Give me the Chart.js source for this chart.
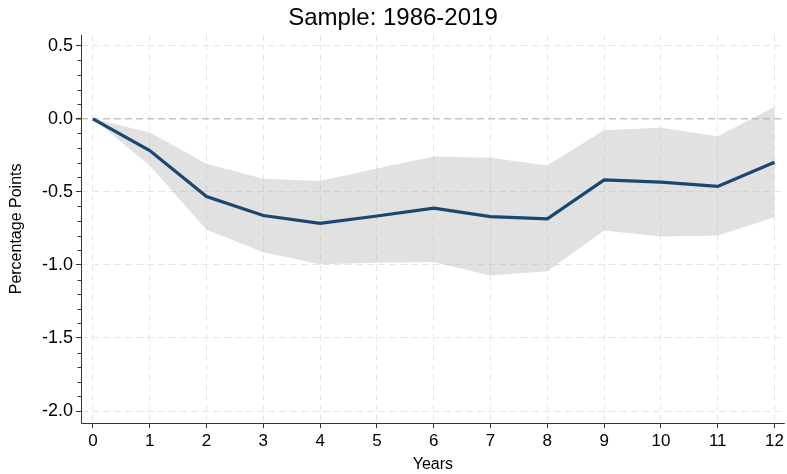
<!DOCTYPE html>
<html>
<head>
<meta charset="utf-8">
<script src="https://cdn.jsdelivr.net/npm/chart.js@4.4.1/dist/chart.umd.min.js"></script>
<style>
  html, body { margin: 0; padding: 0; background: #ffffff; }
  #wrap { width: 787px; height: 474px; position: relative; }
</style>
</head>
<body>
<div id="wrap"><canvas id="c" width="787" height="474"></canvas></div>
<script>
// ---- Data ----
const years = [0, 1, 2, 3, 4, 5, 6, 7, 8, 9, 10, 11, 12];
const estimate = [0, -0.217, -0.532, -0.662, -0.715, -0.665, -0.612, -0.669, -0.685, -0.418, -0.434, -0.463, -0.297];
const upperBand = [0, -0.094, -0.308, -0.411, -0.425, -0.340, -0.258, -0.267, -0.320, -0.078, -0.062, -0.119, 0.080];
const lowerBand = [0, -0.320, -0.760, -0.913, -0.995, -0.986, -0.980, -1.073, -1.043, -0.765, -0.806, -0.799, -0.673];
const xTicks = [0, 1, 2, 3, 4, 5, 6, 7, 8, 9, 10, 11, 12];
const yMajorTicks = [0.5, 0.0, -0.5, -1.0, -1.5, -2.0];
const yTickLabels = ['0.5', '0.0', '-0.5', '-1.0', '-1.5', '-2.0'];
const yMinorTicks = [0.4, 0.3, 0.2, 0.1, -0.1, -0.2, -0.3, -0.4, -0.6, -0.7, -0.8, -0.9,
                     -1.1, -1.2, -1.3, -1.4, -1.6, -1.7, -1.8, -1.9];
const titleText = 'Sample: 1986-2019';
const xTitle = 'Years';
const yTitle = 'Percentage Points';

const FONT = "'Liberation Sans', Arial, Helvetica, sans-serif";

const pts = (arr) => years.map((x, i) => ({ x: x, y: arr[i] }));

// Solid axis lines + short minor ticks on the y axis, drawn through the scales
const axisDecor = {
  id: 'axisDecor',
  afterDraw(chart) {
    const sy = chart.scales.y;
    const sx = chart.scales.x;
    const ctx = chart.ctx;
    ctx.save();
    ctx.strokeStyle = '#333333';
    ctx.lineWidth = 1;
    ctx.setLineDash([]);
    // minor ticks
    yMinorTicks.forEach(v => {
      const py = Math.round(sy.getPixelForValue(v)) + 0.5;
      ctx.beginPath();
      ctx.moveTo(sy.right - 3.5, py);
      ctx.lineTo(sy.right, py);
      ctx.stroke();
    });
    // y axis line
    const ax = Math.round(sy.right) + 0.5;
    const ay = Math.round(sx.top) + 0.5;
    ctx.beginPath();
    ctx.moveTo(ax, sy.top);
    ctx.lineTo(ax, ay);
    ctx.lineTo(sx.right, ay);
    ctx.stroke();
    ctx.restore();
  }
};

new Chart(document.getElementById('c'), {
  type: 'line',
  data: {
    datasets: [
      {
        label: 'upper',
        data: pts(upperBand),
        borderWidth: 0,
        borderColor: 'rgba(0,0,0,0)',
        backgroundColor: 'rgba(170,170,170,0.35)',
        pointRadius: 0,
        fill: '+1',
        order: 2
      },
      {
        label: 'lower',
        data: pts(lowerBand),
        borderWidth: 0,
        borderColor: 'rgba(0,0,0,0)',
        pointRadius: 0,
        fill: false,
        order: 2
      },
      {
        label: 'estimate',
        data: pts(estimate),
        borderColor: '#1a476f',
        borderWidth: 3.2,
        pointRadius: 0,
        fill: false,
        tension: 0,
        order: 1
      }
    ]
  },
  options: {
    responsive: false,
    animation: false,
    devicePixelRatio: 1,
    layout: { padding: { left: 0, right: 1, top: 0, bottom: 0 } },
    plugins: {
      legend: { display: false },
      tooltip: { enabled: false },
      title: {
        display: true,
        text: titleText,
        color: '#000000',
        font: { family: FONT, size: 24, weight: 'normal', lineHeight: 1.2 },
        padding: { top: 4, bottom: 2 }
      }
    },
    scales: {
      x: {
        type: 'linear',
        min: -0.21,
        max: 12.18,
        afterBuildTicks: (s) => { s.ticks = xTicks.map(v => ({ value: v })); },
        afterFit: (s) => { s.height = 51; },
        ticks: {
          color: '#000000',
          font: { family: FONT, size: 17 },
          padding: 3,
          maxRotation: 0,
          callback: (v) => String(v)
        },
        grid: {
          color: '#e6e6e6',
          lineWidth: 1,
          tickLength: 5,
          tickColor: '#333333',
          drawOnChartArea: true
        },
        border: { display: false, dash: [6, 4] },
        title: {
          display: true,
          text: xTitle,
          color: '#000000',
          font: { family: FONT, size: 16 },
          padding: { top: 0, bottom: 0 }
        }
      },
      y: {
        type: 'linear',
        min: -2.082,
        max: 0.575,
        afterBuildTicks: (s) => { s.ticks = yMajorTicks.map(v => ({ value: v })); },
        afterFit: (s) => { s.width = 81; },
        ticks: {
          color: '#000000',
          font: { family: FONT, size: 18 },
          padding: 3,
          callback: (v) => yTickLabels[yMajorTicks.findIndex(m => Math.abs(m - v) < 1e-9)]
        },
        grid: {
          color: (c) => (c.tick && Math.abs(c.tick.value) < 1e-9) ? '#c4c4c4' : '#e6e6e6',
          lineWidth: (c) => (c.tick && Math.abs(c.tick.value) < 1e-9) ? 1.5 : 1,
          tickLength: 5,
          tickColor: '#333333'
        },
        border: { display: false, dash: [7, 4] },
        title: {
          display: true,
          text: yTitle,
          color: '#000000',
          font: { family: FONT, size: 16 },
          padding: { top: 7, bottom: 0 }
        }
      }
    }
  },
  plugins: [axisDecor]
});
</script>
</body>
</html>
